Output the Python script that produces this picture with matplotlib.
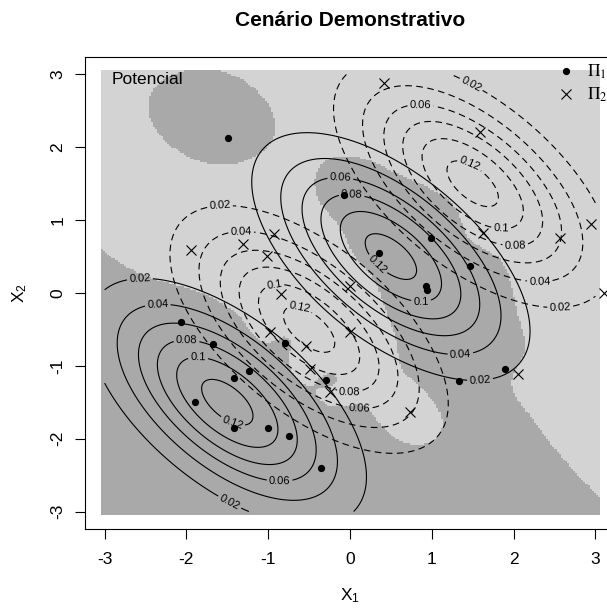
import numpy as np
import matplotlib
matplotlib.use("Agg")
import matplotlib.pyplot as plt
from matplotlib.colors import ListedColormap
from matplotlib.lines import Line2D
from matplotlib.font_manager import FontProperties

# ---------------------------------------------------------------------------
# Sample
# ---------------------------------------------------------------------------
pi1_x = [-1.49, -0.07, 0.36, 0.99, 1.47, 0.93, 0.94, 1.33, 1.90,
         -2.07, -1.67, -1.23, -1.42, -1.90, -1.42, -1.00, -0.74, -0.36,
         -0.80, -0.29]
pi1_y = [2.13, 1.34, 0.55, 0.76, 0.37, 0.09, 0.04, -1.21, -1.04,
         -0.40, -0.70, -1.07, -1.17, -1.49, -1.86, -1.85, -1.96, -2.40,
         -0.69, -1.20]

pi2_x = [-1.94, -1.31, -1.01, -0.93, -0.84, 0.41, 1.59, 1.63, 2.57, 2.95,
         3.10, -0.98, -0.54, -0.49, -0.24, 0.00, 0.00, 0.73, 2.06]
pi2_y = [0.59, 0.67, 0.51, 0.81, -0.02, 2.88, 2.21, 0.82, 0.76, 0.95,
         0.00, -0.53, -0.73, -1.05, -1.36, 0.09, -0.53, -1.63, -1.11]

# class densities: equal mixtures of two normals with a common covariance
pi1_means = [(-1.5, -1.5), (0.5, 0.5)]
pi2_means = [(-0.5, -0.5), (1.5, 1.5)]
cov = [[0.78, -0.47], [-0.47, 0.78]]
levels = [0.02, 0.04, 0.06, 0.08, 0.10, 0.12]

# potential-function classifier settings (kernel 1 / (1 + a*d))
kernel_scale = 13.3
prior_ratio = 1.05

# where R put the contour labels
pi1_label_pos = [(-0.12, 1.55), (0.02, 1.32), (0.27, 0.32), (0.87, -0.05),
                 (1.35, -0.83), (1.59, -1.19), (-2.57, 0.21), (-2.35, -0.16),
                 (-2.0, -0.69), (-1.86, -0.93), (-1.41, -1.70), (-0.86, -2.57),
                 (-1.47, -2.87)]
pi2_label_pos = [(1.47, 2.84), (0.86, 2.56), (1.43, 1.69), (1.85, 0.91),
                 (2.02, 0.69), (2.32, 0.17), (2.57, -0.18), (-1.59, 1.19),
                 (-1.33, 0.82), (-0.92, 0.07), (-0.65, -0.34), (0.0, -1.31),
                 (0.12, -1.57)]

DARK = "#A9A9A9"
LIGHT = "#D3D3D3"

plt.rcParams.update({
    "font.family": "Liberation Sans",
    "font.size": 12.5,
    "axes.unicode_minus": False,
    "mathtext.fontset": "custom",
    "mathtext.rm": "Liberation Sans",
    "mathtext.it": "Liberation Sans",
    "mathtext.bf": "Liberation Sans:bold",
    "lines.dashed_pattern": [6.0, 4.0],
})


def mix_density(X, Y, means, cov):
    inv = np.linalg.inv(cov)
    norm = 1.0 / (2 * np.pi * np.sqrt(np.linalg.det(cov)))
    out = np.zeros_like(X)
    for mx, my in means:
        dx, dy = X - mx, Y - my
        q = inv[0, 0] * dx * dx + 2 * inv[0, 1] * dx * dy + inv[1, 1] * dy * dy
        out += norm * np.exp(-q / 2) / len(means)
    return out


def potential(X, Y, px, py):
    out = np.zeros_like(X)
    for a, b in zip(px, py):
        out += 1.0 / (1.0 + kernel_scale * np.hypot(X - a, Y - b))
    return out


# ---- classification grid ----
g = np.linspace(-3, 3, 241)
GX, GY = np.meshgrid(g, g)
cls = (prior_ratio * potential(GX, GY, pi2_x, pi2_y)
       > potential(GX, GY, pi1_x, pi1_y)).astype(int)

# ---- fine grid for densities ----
f = np.linspace(-3, 3, 301)
FX, FY = np.meshgrid(f, f)
d1 = mix_density(FX, FY, pi1_means, np.array(cov))
d2 = mix_density(FX, FY, pi2_means, np.array(cov))

W, H = 607, 609
fig = plt.figure(figsize=(W / 100, H / 100), dpi=100)
ax = fig.add_axes([85 / W, (H - 529) / H, 530 / W, 472 / H])

ax.imshow(cls, origin="lower",
          extent=(-3.05, 3.05, -3.05, 3.05),
          cmap=ListedColormap([DARK, LIGHT]), vmin=0, vmax=1,
          interpolation="nearest", aspect="auto", zorder=0)

cs1 = ax.contour(FX, FY, d1, levels=levels, colors="black",
                 linewidths=0.8, linestyles="solid", zorder=2)
cs2 = ax.contour(FX, FY, d2, levels=levels, colors="black",
                 linewidths=0.8, linestyles="dashed", zorder=2)
ax.clabel(cs1, fmt="%g", fontsize=8, inline=True, inline_spacing=3,
          manual=pi1_label_pos)
ax.clabel(cs2, fmt="%g", fontsize=8, inline=True, inline_spacing=3,
          manual=pi2_label_pos)

ax.plot(pi1_x, pi1_y, "o", color="black", ms=4.2, zorder=3, clip_on=False)
ax.plot(pi2_x, pi2_y, "x", color="black", ms=6.5, mew=0.8, zorder=3,
        clip_on=False)

ax.set_xlim(-3.24, 3.24)
ax.set_ylim(-3.24, 3.24)
ax.set_xticks(range(-3, 4))
ax.set_yticks(range(-3, 4))
ax.tick_params(length=7.2, width=0.8, pad=9)
ax.tick_params(axis="y", pad=7)
for lab in ax.get_yticklabels():
    lab.set_rotation(90)
    lab.set_va("center")
for side in ("top", "right", "bottom", "left"):
    ax.spines[side].set_linewidth(0.8)

ax.set_xlabel(r"$X_1$")
ax.set_ylabel(r"$X_2$")
ax.xaxis.set_label_coords(0.5, (529 - 586) / 472)
ax.yaxis.set_label_coords((29 - 85) / 530, 0.5)

fig.text(350 / W, 1 - 20 / H, "Cenário Demonstrativo", ha="center",
         va="center", fontsize=15, fontweight="bold")
ax.text((112 - 85) / 530, (529 - 84) / 472, "Potencial",
        transform=ax.transAxes, ha="left", va="baseline")

handles = [Line2D([], [], ls="none", marker="o", color="black", ms=4.2),
           Line2D([], [], ls="none", marker="x", color="black", ms=6.5, mew=0.8)]
ax.legend(handles, [r"$\Pi_1$", r"$\Pi_2$"], loc="upper left",
          bbox_to_anchor=((556 - 85) / 530, (529 - 63) / 472),
          frameon=False, borderpad=0, borderaxespad=0, handlelength=1.2,
          handletextpad=0.6, labelspacing=0.25,
          prop=FontProperties(family="Liberation Serif", size=12.5,
                              math_fontfamily="stix"))

fig.savefig("out.png", dpi=100)
